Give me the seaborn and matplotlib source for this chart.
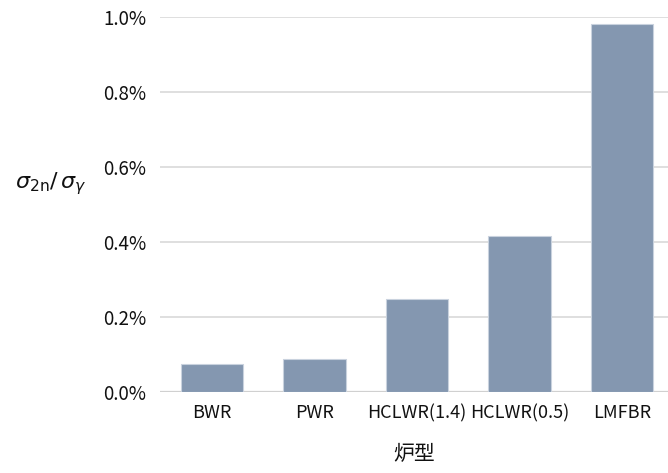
import matplotlib
matplotlib.use("Agg")
import matplotlib.pyplot as plt
import seaborn as sns
import pandas as pd
from matplotlib.ticker import FuncFormatter

# Reactor types and the ratio sigma_2n / sigma_gamma (in percent)
reactors = ["BWR", "PWR", "HCLWR(1.4)", "HCLWR(0.5)", "LMFBR"]
ratio_pct = [0.074, 0.087, 0.246, 0.415, 0.98]
y_ticks = [0.0, 0.2, 0.4, 0.6, 0.8, 1.0]

df = pd.DataFrame({"炉型": reactors, "ratio": ratio_pct})

sns.set_style("white")
plt.rcParams["font.family"] = ["Noto Sans CJK JP", "DejaVu Sans"]
plt.rcParams["mathtext.fontset"] = "dejavusans"

fig = plt.figure(figsize=(6.68, 4.73), dpi=100)
ax = fig.add_axes([160 / 668, 1 - 391.7 / 473, (668 - 160) / 668, (391.7 - 16.7) / 473])

sns.barplot(data=df, x="炉型", y="ratio", color="#8497B0", saturation=1,
            width=0.61, edgecolor="#c9d2de", linewidth=0.8, ax=ax, zorder=3)

ax.set_ylim(0, 1.0)
ax.set_xlim(-0.51, 4.45)
ax.set_yticks(y_ticks)
ax.yaxis.set_major_formatter(FuncFormatter(lambda v, _: f"{v:.1f}%"))
ax.grid(axis="y", color="#d9d9d9", linewidth=1.2, zorder=0)
ax.set_axisbelow(True)
for s in ax.spines.values():
    s.set_visible(False)
ax.axhline(0, color="#d0d0d0", linewidth=1.6, zorder=2)

ax.tick_params(axis="y", length=0, labelsize=13.5, colors="#111111", pad=10)
ax.tick_params(axis="x", length=0, labelsize=13, colors="#111111", pad=9)

ax.set_xlabel("炉型", fontsize=15, color="#111111", labelpad=15)
ax.set_ylabel(r"$\sigma_{\mathrm{2n}}/\,\sigma_{\gamma}$", fontsize=16, rotation=0,
              color="#111111", labelpad=0)
ax.yaxis.set_label_coords(-0.215, 0.52)

fig.savefig("out.png", dpi=100)
